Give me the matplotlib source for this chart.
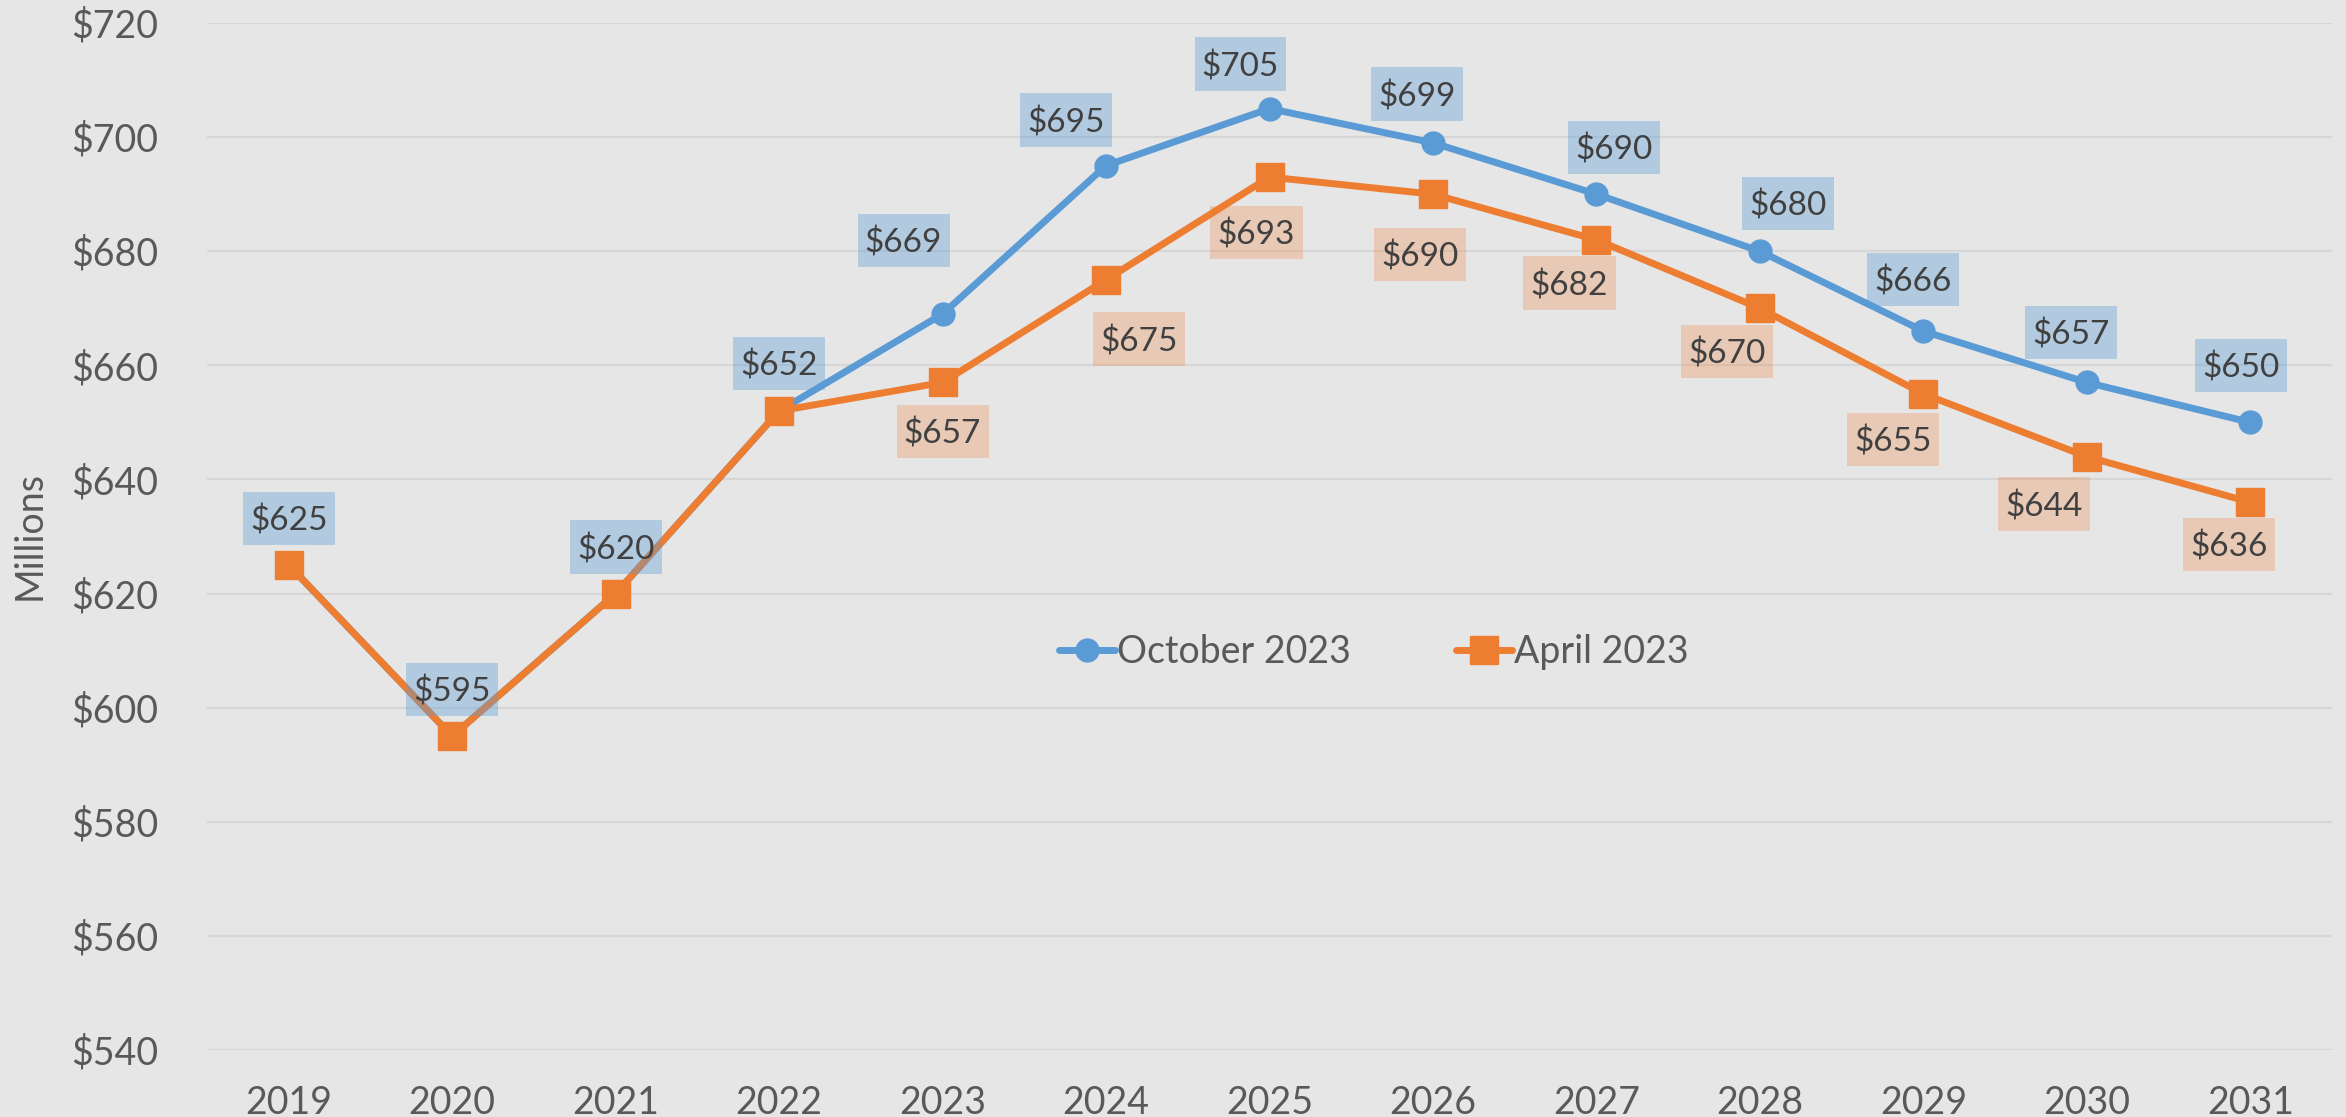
import matplotlib
matplotlib.use("Agg")
import matplotlib.pyplot as plt
from matplotlib.ticker import FuncFormatter
from matplotlib.path import Path

# ---- data ----
years = ["2019", "2020", "2021", "2022", "2023", "2024", "2025",
         "2026", "2027", "2028", "2029", "2030", "2031"]
october_2023 = [625, 595, 620, 652, 669, 695, 705, 699, 690, 680, 666, 657, 650]
april_2023 = [625, 595, 620, 652, 657, 675, 693, 690, 682, 670, 655, 644, 636]
series_names = ["October 2023", "April 2023"]
y_ticks = [540, 560, 580, 600, 620, 640, 660, 680, 700, 720]

# label placement (pixel offsets of box centre from the point) - style only
oct_offsets = [(0, 44), (0, 44), (0, 44), (0, 45), (-39, 71), (-40, 43), (-29, 42),
               (-16, 46), (18, 44), (28, 45), (-10, 49), (-16, 47), (-9, 54)]
apr_label_from = 4
apr_offsets = [(0, -52), (33, -62), (-13, -58), (-13, -63), (-27, -46),
               (-33, -46), (-30, -48), (-43, -50), (-21, -45)]

BG = "#E6E6E6"
BLUE = "#5B9BD5"
ORANGE = "#ED7D31"
FONT = ["Lato", "DejaVu Sans"]
plt.rcParams["font.family"] = FONT

fig = plt.figure(figsize=(23.46, 11.17), dpi=100, facecolor=BG)
ax = fig.add_axes([207 / 2346, 1 - 1050 / 1117, (2332 - 207) / 2346, (1050 - 23) / 1117])
ax.set_facecolor(BG)

x = list(range(len(years)))
ax.plot(x, october_2023, color=BLUE, lw=5, marker="o", markersize=16.5,
        label=series_names[0], zorder=3, solid_capstyle="round")
ax.plot(x, april_2023, color=ORANGE, lw=5, marker="s", markersize=20,
        label=series_names[1], zorder=4, solid_capstyle="round")

ax.set_ylim(540, 720)
ax.set_xlim(-0.5, 12.5)
ax.set_yticks(y_ticks)
ax.yaxis.set_major_formatter(FuncFormatter(lambda v, p: f"${v:.0f}"))
ax.set_xticks(x)
ax.set_xticklabels(years)
ax.grid(axis="y", color="#D6D6D6", lw=1.6)
ax.set_axisbelow(True)
for s in ax.spines.values():
    s.set_visible(False)
ax.tick_params(axis="both", length=0, labelsize=27, colors="#595959")
ax.tick_params(axis="y", pad=35)
ax.tick_params(axis="x", pad=25)

fig.text(30 / 2346, 1 - 536 / 1117, "Millions", rotation=90, ha="center", va="center",
         fontsize=27, color="#595959")


def label_box(x0, y0, width, height, mutation_size):
    # fixed-proportion rectangle centred on the text
    cx = x0 + width / 2
    cy = y0 + height / 2 + 0.08 * mutation_size
    w = width + 2 * 0.22 * mutation_size
    h = 1.6 * mutation_size
    verts = [(cx - w / 2, cy - h / 2), (cx + w / 2, cy - h / 2),
             (cx + w / 2, cy + h / 2), (cx - w / 2, cy + h / 2), (cx - w / 2, cy - h / 2)]
    return Path(verts, [Path.MOVETO, Path.LINETO, Path.LINETO, Path.LINETO, Path.CLOSEPOLY])


def add_label(xi, yi, off, face, alpha):
    ax.annotate(f"${yi:.0f}", (xi, yi), xytext=off, textcoords="offset pixels",
                ha="center", va="center", fontsize=24, color="#404040", zorder=6,
                bbox=dict(boxstyle=label_box, fc=face, ec="none", alpha=alpha))


for xi, yi, off in zip(x, october_2023, oct_offsets):
    add_label(xi, yi, off, BLUE, 0.37)
for xi, yi, off in zip(x[apr_label_from:], april_2023[apr_label_from:], apr_offsets):
    add_label(xi, yi, off, ORANGE, 0.27)

leg = ax.legend(loc="center", bbox_to_anchor=(0.549, 0.3875), ncol=2, frameon=False,
                fontsize=27, handlelength=1.5, handletextpad=0.05, columnspacing=2.8,
                labelcolor="#595959")

fig.savefig("out.png", dpi=100, facecolor=BG)
